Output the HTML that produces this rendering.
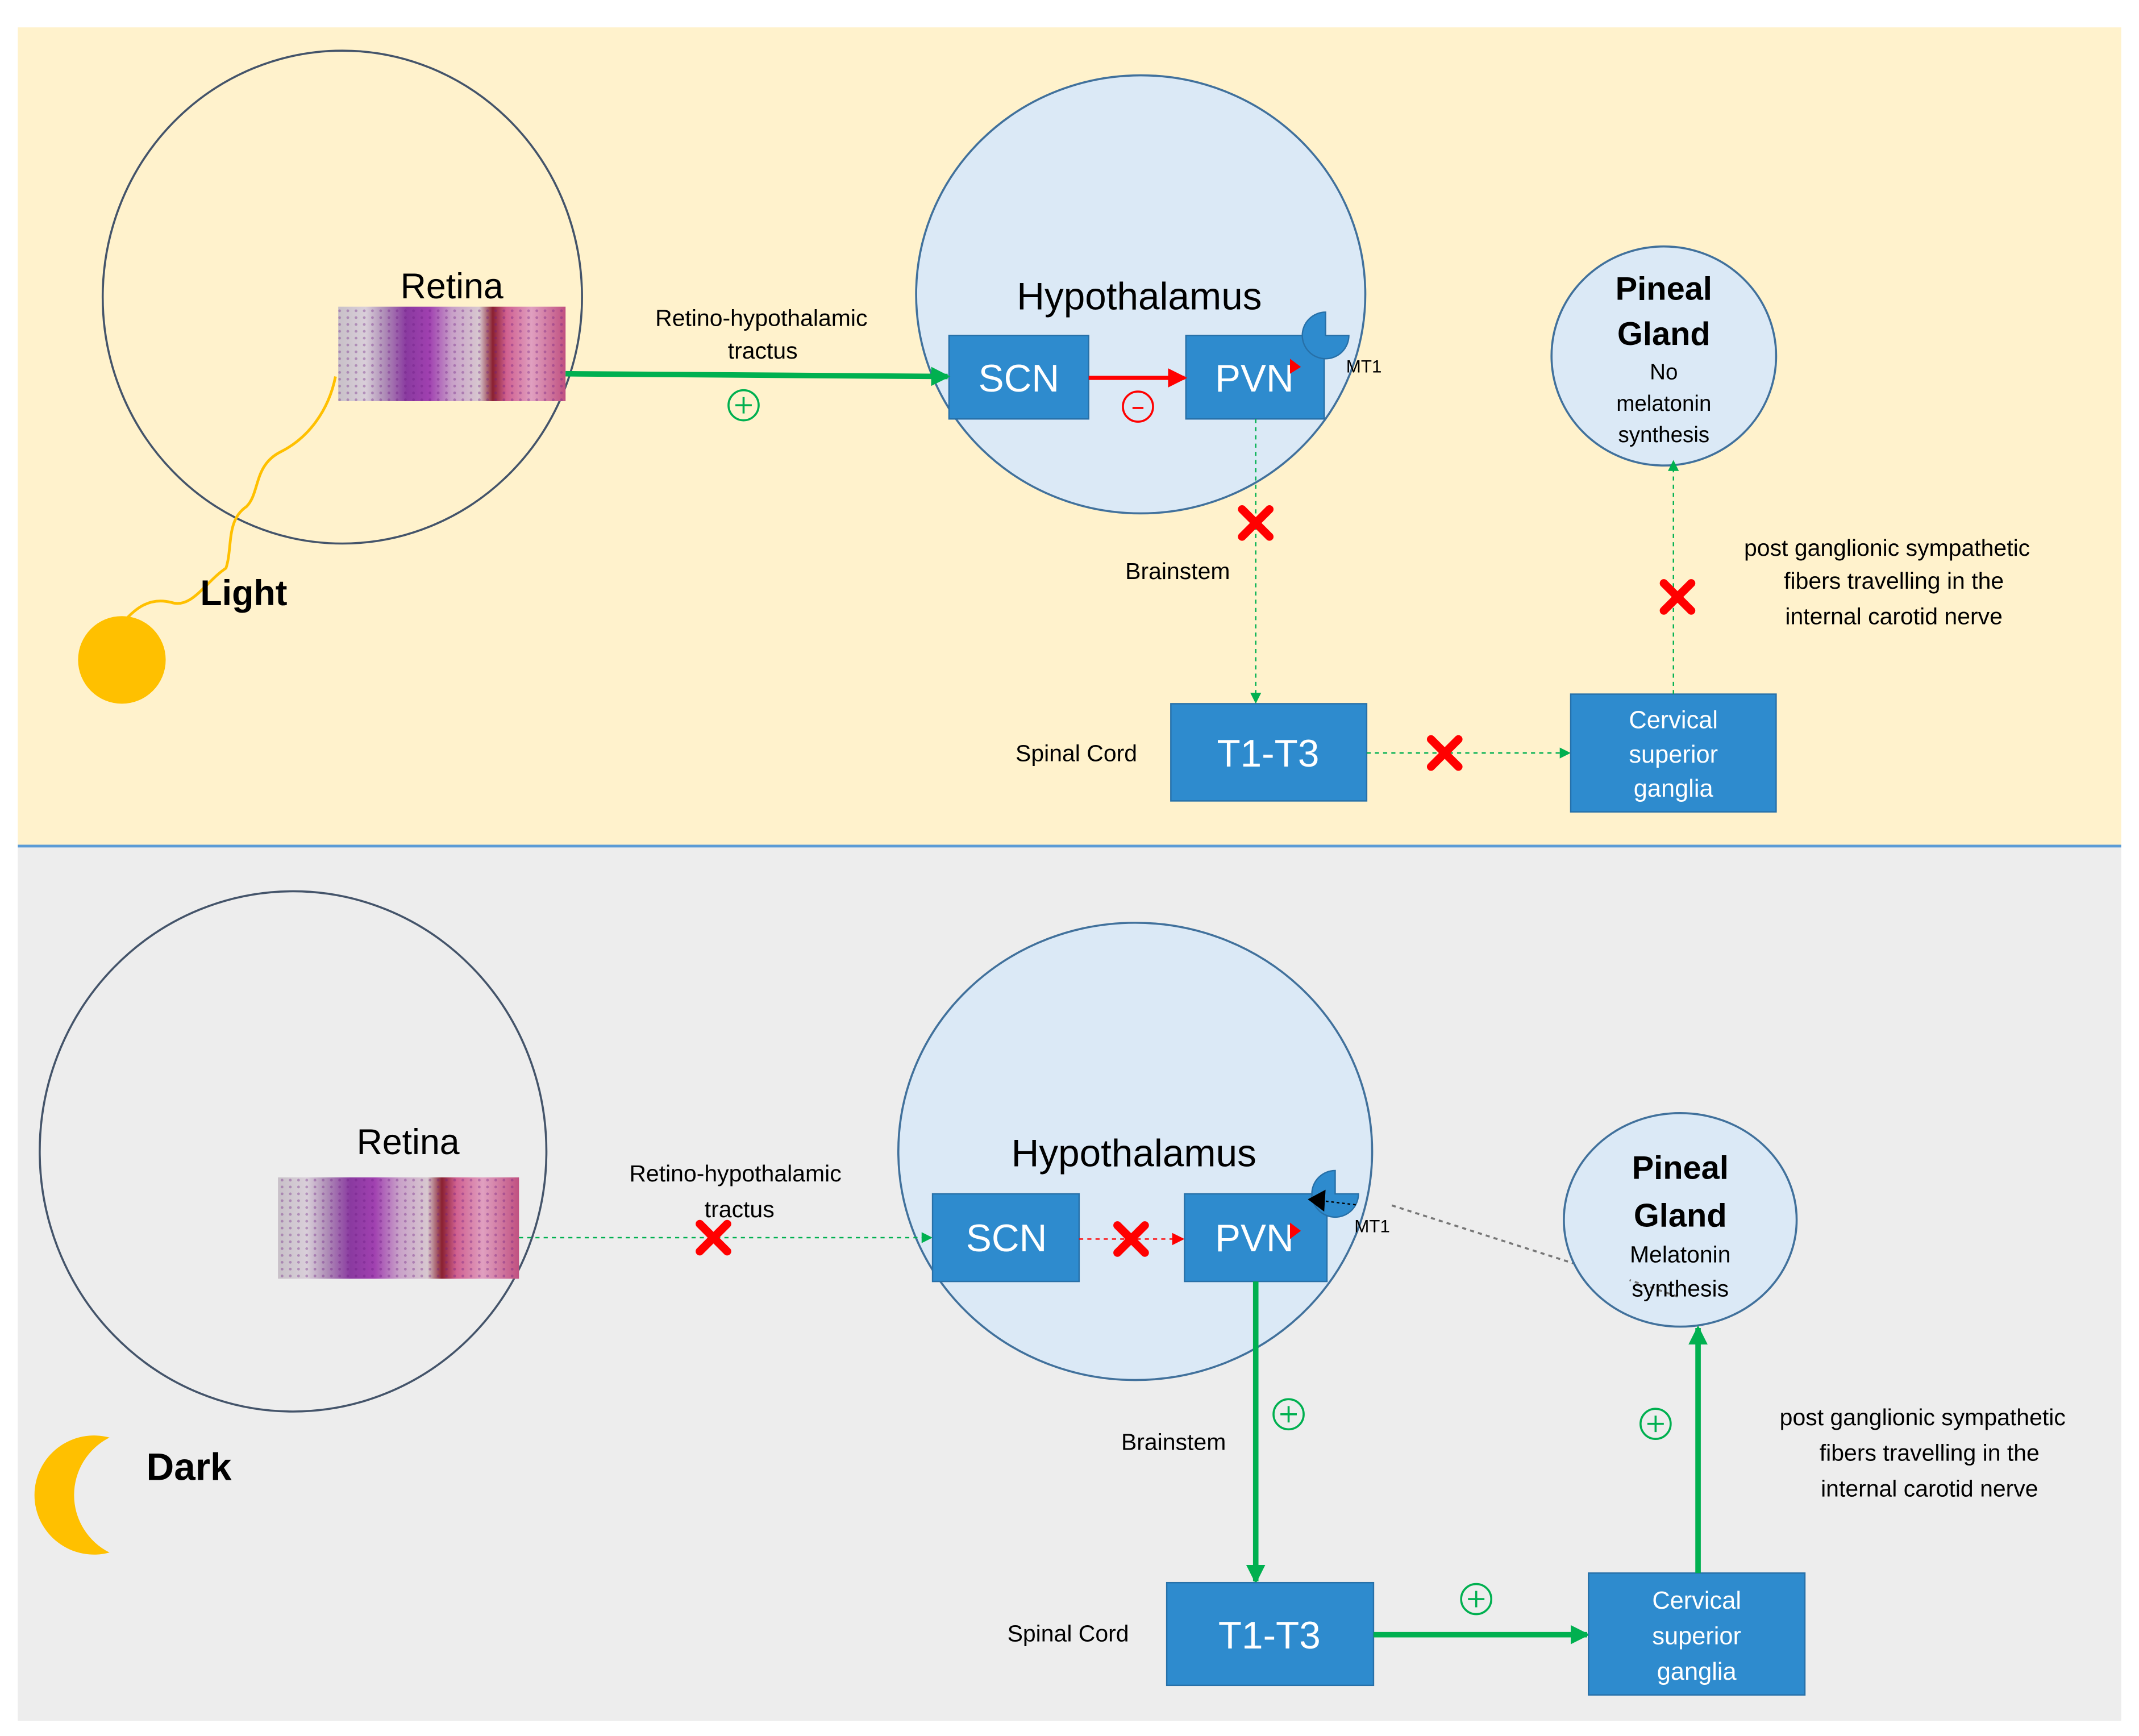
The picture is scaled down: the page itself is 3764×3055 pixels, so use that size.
<!DOCTYPE html>
<html><head><meta charset="utf-8"><style>
html,body{margin:0;padding:0;background:#fff;}
svg{display:block;}
text{font-family:"Liberation Sans","DejaVu Sans",sans-serif;}
</style></head><body>
<svg width="3764" height="3055" viewBox="0 0 1562 1268" preserveAspectRatio="none" xmlns="http://www.w3.org/2000/svg">
<defs>
<linearGradient id="ret" x1="0" y1="0" x2="1" y2="0">
<stop offset="0" stop-color="#c8c0c8"/><stop offset="0.12" stop-color="#d9cfd9"/>
<stop offset="0.2" stop-color="#b090b8"/><stop offset="0.3" stop-color="#8a3aa0"/>
<stop offset="0.4" stop-color="#a040b0"/><stop offset="0.5" stop-color="#c8a0c8"/>
<stop offset="0.62" stop-color="#d8c8d0"/><stop offset="0.68" stop-color="#8a2030"/>
<stop offset="0.74" stop-color="#d06090"/><stop offset="0.85" stop-color="#e0a0c0"/>
<stop offset="1" stop-color="#c05080"/>
</linearGradient>
<pattern id="spk" width="6" height="5" patternUnits="userSpaceOnUse">
<rect width="6" height="5" fill="none"/><circle cx="2" cy="2" r="1" fill="#6a1a80" opacity="0.35"/>
</pattern>
<marker id="ag" markerWidth="8" markerHeight="8" refX="7" refY="4" orient="auto" markerUnits="userSpaceOnUse"><path d="M0,0 L8,4 L0,8z" fill="#00b050"/></marker>
<marker id="agb" markerWidth="14" markerHeight="14" refX="12" refY="7" orient="auto" markerUnits="userSpaceOnUse"><path d="M0,0 L14,7 L0,14z" fill="#00b050"/></marker>
<marker id="ar" markerWidth="14" markerHeight="14" refX="12" refY="7" orient="auto" markerUnits="userSpaceOnUse"><path d="M0,0 L14,7 L0,14z" fill="#ff0000"/></marker>
<marker id="ars" markerWidth="9" markerHeight="9" refX="8" refY="4.5" orient="auto" markerUnits="userSpaceOnUse"><path d="M0,0 L9,4.5 L0,9z" fill="#ff0000"/></marker>
<g id="X"><path d="M-10,-10 L10,10 M10,-10 L-10,10" stroke="#ff0000" stroke-width="6" stroke-linecap="round"/></g>
</defs>

<rect x="13" y="20" width="1536" height="597" fill="#fff2cc"/>
<rect x="13" y="619" width="1536" height="638" fill="#ededed"/>
<line x1="13" y1="618" x2="1549" y2="618" stroke="#5b9bd5" stroke-width="2"/>

<!-- TOP -->
<ellipse cx="250" cy="217" rx="175" ry="180" fill="none" stroke="#44546a" stroke-width="1.5"/>
<text x="330" y="218" font-size="26" text-anchor="middle">Retina</text>
<rect x="247" y="224" width="166" height="69" fill="url(#ret)"/>
<rect x="247" y="224" width="166" height="69" fill="url(#spk)"/>
<path d="M245,275 C240,300 225,320 205,330 C185,340 190,360 180,370 C165,380 170,400 165,415 C150,425 140,445 125,440 C105,435 95,450 89,455" fill="none" stroke="#ffc000" stroke-width="2"/>
<circle cx="89" cy="482" r="32" fill="#ffc000"/>
<text x="178" y="442" font-size="26" font-weight="bold" text-anchor="middle">Light</text>

<ellipse cx="833" cy="215" rx="164" ry="160" fill="#dbe9f6" stroke="#41719c" stroke-width="1.5"/>
<text x="832" y="226" font-size="28" text-anchor="middle">Hypothalamus</text>
<rect x="693" y="245" width="102" height="61" fill="#2e8bce" stroke="#2770a8"/>
<text x="744" y="286" font-size="28" fill="#fff" text-anchor="middle">SCN</text>
<rect x="866" y="245" width="101" height="61" fill="#2e8bce" stroke="#2770a8"/>
<text x="916" y="286" font-size="28" fill="#fff" text-anchor="middle">PVN</text>
<path d="M968,245 L985,245 A17,17 0 1 1 968,228 Z" fill="#2e8bce" stroke="#2770a8"/>
<path d="M942,262 L950,268 L942,273z" fill="#ff0000"/>
<text x="996" y="272" font-size="13" text-anchor="middle">MT1</text>

<line x1="413" y1="273" x2="692" y2="275" stroke="#00b050" stroke-width="4" marker-end="url(#agb)"/>
<text x="556" y="238" font-size="17" text-anchor="middle">Retino-hypothalamic</text>
<text x="557" y="262" font-size="17" text-anchor="middle">tractus</text>
<circle cx="543" cy="296" r="11" fill="none" stroke="#00b050" stroke-width="1.5"/>
<path d="M537,296 H549 M543,290 V302" stroke="#00b050" stroke-width="1.5"/>

<line x1="795" y1="276" x2="865" y2="276" stroke="#ff0000" stroke-width="3" marker-end="url(#ar)"/>
<circle cx="831" cy="297" r="11" fill="none" stroke="#ff0000" stroke-width="1.5"/>
<path d="M827,298 H835" stroke="#ff0000" stroke-width="1.5"/>

<line x1="917" y1="306" x2="917" y2="513" stroke="#00b050" stroke-width="1" stroke-dasharray="3,3" marker-end="url(#ag)"/>
<use href="#X" x="917" y="382"/>
<text x="860" y="423" font-size="17" text-anchor="middle">Brainstem</text>

<rect x="855" y="514" width="143" height="71" fill="#2e8bce" stroke="#2770a8"/>
<text x="926" y="560" font-size="28" fill="#fff" text-anchor="middle">T1-T3</text>
<text x="786" y="556" font-size="17" text-anchor="middle">Spinal Cord</text>

<line x1="998" y1="550" x2="1146" y2="550" stroke="#00b050" stroke-width="1" stroke-dasharray="3,3" marker-end="url(#ag)"/>
<use href="#X" x="1055" y="550"/>

<rect x="1147" y="507" width="150" height="86" fill="#2e8bce" stroke="#2770a8"/>
<text x="1222" y="532" font-size="18" fill="#fff" text-anchor="middle">Cervical</text>
<text x="1222" y="557" font-size="18" fill="#fff" text-anchor="middle">superior</text>
<text x="1222" y="582" font-size="18" fill="#fff" text-anchor="middle">ganglia</text>

<ellipse cx="1215" cy="260" rx="82" ry="80" fill="#dbe9f6" stroke="#41719c" stroke-width="1.5"/>
<line x1="1222" y1="507" x2="1222" y2="337" stroke="#00b050" stroke-width="1" stroke-dasharray="3,3" marker-end="url(#ag)"/>
<use href="#X" x="1225" y="436"/>
<text x="1215" y="219" font-size="24" font-weight="bold" text-anchor="middle">Pineal</text>
<text x="1215" y="252" font-size="24" font-weight="bold" text-anchor="middle">Gland</text>
<text x="1215" y="277" font-size="16" text-anchor="middle">No</text>
<text x="1215" y="300" font-size="16" text-anchor="middle">melatonin</text>
<text x="1215" y="323" font-size="16" text-anchor="middle">synthesis</text>

<text x="1378" y="406" font-size="17" text-anchor="middle">post ganglionic sympathetic</text>
<text x="1383" y="430" font-size="17" text-anchor="middle">fibers travelling in the</text>
<text x="1383" y="456" font-size="17" text-anchor="middle">internal carotid nerve</text>

<!-- BOTTOM -->
<ellipse cx="214" cy="841" rx="185" ry="190" fill="none" stroke="#44546a" stroke-width="1.5"/>
<text x="298" y="843" font-size="26" text-anchor="middle">Retina</text>
<rect x="203" y="860" width="176" height="74" fill="url(#ret)"/>
<rect x="203" y="860" width="176" height="74" fill="url(#spk)"/>

<ellipse cx="829" cy="841" rx="173" ry="167" fill="#dbe9f6" stroke="#41719c" stroke-width="1.5"/>
<text x="828" y="852" font-size="28" text-anchor="middle">Hypothalamus</text>

<line x1="379" y1="904" x2="680" y2="904" stroke="#00b050" stroke-width="1" stroke-dasharray="3,3" marker-end="url(#ag)"/>
<use href="#X" x="521" y="904"/>
<text x="537" y="863" font-size="17" text-anchor="middle">Retino-hypothalamic</text>
<text x="540" y="889" font-size="17" text-anchor="middle">tractus</text>

<rect x="681" y="872" width="107" height="64" fill="#2e8bce" stroke="#2770a8"/>
<text x="735" y="914" font-size="28" fill="#fff" text-anchor="middle">SCN</text>
<rect x="865" y="872" width="104" height="64" fill="#2e8bce" stroke="#2770a8"/>
<text x="916" y="914" font-size="28" fill="#fff" text-anchor="middle">PVN</text>
<line x1="788" y1="905" x2="864" y2="905" stroke="#ff0000" stroke-width="1" stroke-dasharray="3,3" marker-end="url(#ars)"/>
<use href="#X" x="826" y="905"/>
<path d="M942,893 L950,899 L942,905z" fill="#ff0000"/>
<path d="M975,872 L992,872 A17,17 0 1 1 975,855 Z" fill="#2e8bce" stroke="#2770a8"/>
<line x1="1225" y1="947" x2="1015" y2="880" stroke="#777" stroke-width="1.5" stroke-dasharray="3,3"/>
<line x1="990" y1="880" x2="965" y2="877" stroke="#000" stroke-width="1" stroke-dasharray="2,2"/>
<path d="M955,876 L968,869 L967,885z" fill="#000"/>
<text x="1002" y="900" font-size="13" text-anchor="middle">MT1</text>

<line x1="917" y1="936" x2="917" y2="1155" stroke="#00b050" stroke-width="4" marker-end="url(#agb)"/>
<circle cx="941" cy="1033" r="11" fill="none" stroke="#00b050" stroke-width="1.5"/>
<path d="M935,1033 H947 M941,1027 V1039" stroke="#00b050" stroke-width="1.5"/>
<text x="857" y="1059" font-size="17" text-anchor="middle">Brainstem</text>

<rect x="852" y="1156" width="151" height="75" fill="#2e8bce" stroke="#2770a8"/>
<text x="927" y="1204" font-size="28" fill="#fff" text-anchor="middle">T1-T3</text>
<text x="780" y="1199" font-size="17" text-anchor="middle">Spinal Cord</text>

<line x1="1003" y1="1194" x2="1159" y2="1194" stroke="#00b050" stroke-width="4" marker-end="url(#agb)"/>
<circle cx="1078" cy="1168" r="11" fill="none" stroke="#00b050" stroke-width="1.5"/>
<path d="M1072,1168 H1084 M1078,1162 V1174" stroke="#00b050" stroke-width="1.5"/>

<rect x="1160" y="1149" width="158" height="89" fill="#2e8bce" stroke="#2770a8"/>
<text x="1239" y="1175" font-size="18" fill="#fff" text-anchor="middle">Cervical</text>
<text x="1239" y="1201" font-size="18" fill="#fff" text-anchor="middle">superior</text>
<text x="1239" y="1227" font-size="18" fill="#fff" text-anchor="middle">ganglia</text>

<ellipse cx="1227" cy="891" rx="85" ry="78" fill="#dbe9f6" stroke="#41719c" stroke-width="1.5"/>
<line x1="1225" y1="947" x2="1190" y2="935" stroke="#777" stroke-width="1.5" stroke-dasharray="3,3"/>
<line x1="1240" y1="1149" x2="1240" y2="970" stroke="#00b050" stroke-width="4" marker-end="url(#agb)"/>
<circle cx="1209" cy="1040" r="11" fill="none" stroke="#00b050" stroke-width="1.5"/>
<path d="M1203,1040 H1215 M1209,1034 V1046" stroke="#00b050" stroke-width="1.5"/>
<text x="1227" y="861" font-size="24" font-weight="bold" text-anchor="middle">Pineal</text>
<text x="1227" y="896" font-size="24" font-weight="bold" text-anchor="middle">Gland</text>
<text x="1227" y="922" font-size="17" text-anchor="middle">Melatonin</text>
<text x="1227" y="947" font-size="17" text-anchor="middle">synthesis</text>

<text x="1404" y="1041" font-size="17" text-anchor="middle">post ganglionic sympathetic</text>
<text x="1409" y="1067" font-size="17" text-anchor="middle">fibers travelling in the</text>
<text x="1409" y="1093" font-size="17" text-anchor="middle">internal carotid nerve</text>

<path d="M80,1050 A43.5,43.5 0 1 0 80,1134 A47,47 0 0 1 80,1050 Z" fill="#ffc000"/>
<text x="138" y="1081" font-size="28" font-weight="bold" text-anchor="middle">Dark</text>
</svg>
</body></html>
